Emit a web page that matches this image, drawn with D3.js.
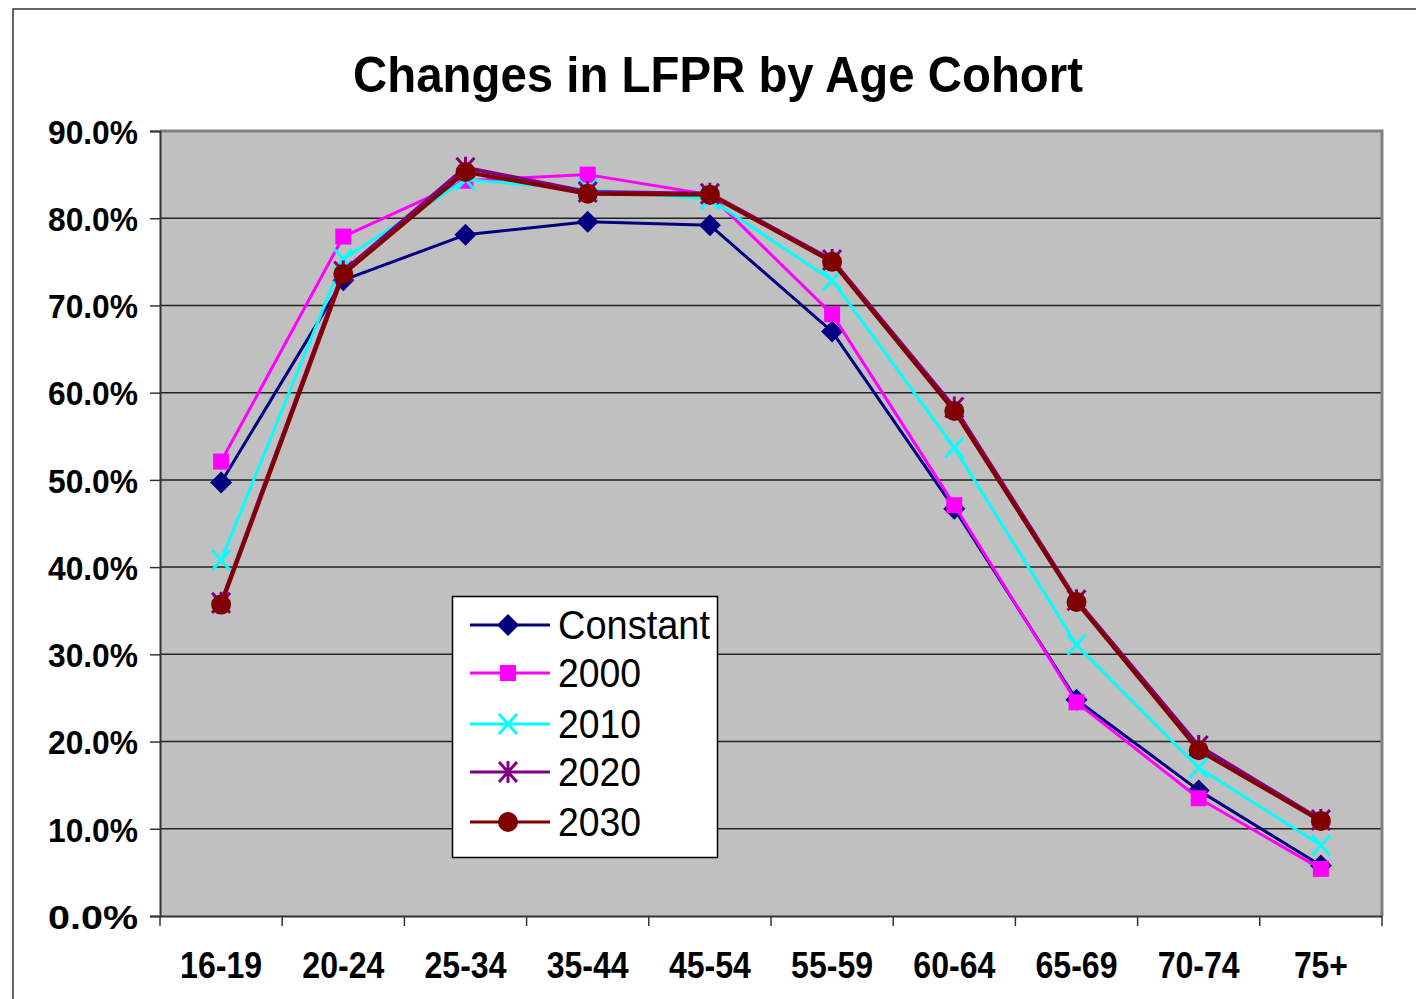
<!DOCTYPE html>
<html><head><meta charset="utf-8">
<script src="https://cdn.jsdelivr.net/npm/d3@7"></script>
<style>html,body{margin:0;padding:0;background:#fff;}svg{display:block;}</style>
</head><body>
<svg id="chart" width="1416" height="999"></svg>
<script>
const categories = ["16-19","20-24","25-34","35-44","45-54","55-59","60-64","65-69","70-74","75+"];
const constantVals = [49.7,72.9,78.1,79.6,79.2,67.0,46.7,24.8,14.4,5.8];
const vals2000 = [52.1,77.9,84.3,85.0,82.7,69.0,47.1,24.5,13.5,5.4];
const vals2010 = [40.8,75.3,84.4,83.3,82.2,72.9,53.7,31.1,17.0,8.1];
const vals2020 = [35.9,73.9,85.8,83.0,82.8,75.2,58.3,36.2,19.5,11.0];
const vals2030 = [35.7,73.6,85.3,82.8,82.7,75.0,57.9,36.0,19.0,10.9];
const seriesNames = ["Constant","2000","2010","2020","2030"];
const yTicks = [0,10,20,30,40,50,60,70,80,90];
const title = "Changes in LFPR by Age Cohort";

(function(){
const seriesData = [constantVals, vals2000, vals2010, vals2020, vals2030];
const colors = ["#000080","#FF00FF","#00FFFF","#800080","#800000"];
const widths = [3,3,3,4,4];
const markerTypes = ["diamond","square","x","star","circle"];

const svg = d3.select("#chart");
const FONT = "'Liberation Sans', Arial, sans-serif";

svg.append("rect").attr("x",13).attr("y",9).attr("width",1420).attr("height",1010)
  .attr("fill","#fff").attr("stroke","#333").attr("stroke-width",1.5);

const pL=160, pR=1382, pT=131, pB=916;
const x = d3.scaleBand().domain(categories).range([pL,pR]).padding(0);
const y = d3.scaleLinear().domain([0,90]).range([pB,pT]);

svg.append("rect").attr("x",pL).attr("y",pT).attr("width",pR-pL).attr("height",pB-pT)
  .attr("fill","#C0C0C0");

svg.append("g").selectAll("line").data(yTicks.filter(d=>d>0 && d<90)).join("line")
  .attr("x1",pL).attr("x2",pR).attr("y1",d=>y(d)).attr("y2",d=>y(d))
  .attr("stroke","#222").attr("stroke-width",1.5);

svg.append("path").attr("d",`M${pL},${pT}H${pR}V${pB}`)
  .attr("fill","none").attr("stroke","#808080").attr("stroke-width",3);

const yAxis = svg.append("g").attr("transform",`translate(${pL},0)`)
  .call(d3.axisLeft(y).tickValues(yTicks).tickSize(10).tickFormat(d=>d.toFixed(1)+"%"));
yAxis.select(".domain").attr("stroke","#333").attr("stroke-width",2);
yAxis.selectAll(".tick line").attr("stroke","#333").attr("stroke-width",1.5);
yAxis.selectAll(".tick text").attr("x",-22).attr("dy","0.36em")
  .attr("font-family",FONT).attr("font-weight","bold").attr("font-size",34).attr("fill","#000")
  .attr("textLength",90).attr("lengthAdjust","spacingAndGlyphs");

const xAxis = svg.append("g").attr("transform",`translate(0,${pB})`)
  .call(d3.axisBottom(x).tickSize(0).tickFormat(d=>d));
xAxis.select(".domain").attr("stroke","#333").attr("stroke-width",2);
xAxis.selectAll(".tick text").attr("y",36).attr("dy","0.71em")
  .attr("font-family",FONT).attr("font-weight","bold").attr("font-size",36).attr("fill","#000")
  .attr("textLength",d=>d==="75+"?54:82).attr("lengthAdjust","spacingAndGlyphs");
const bounds = categories.map(c=>x(c)).concat([pR]);
svg.append("g").selectAll("line").data(bounds).join("line")
  .attr("x1",d=>d).attr("x2",d=>d).attr("y1",pB).attr("y2",pB+10)
  .attr("stroke","#333").attr("stroke-width",1.5);

svg.append("text").attr("x",718).attr("y",92).attr("text-anchor","middle")
  .attr("font-family",FONT).attr("font-weight","bold").attr("font-size",50)
  .attr("textLength",730).attr("lengthAdjust","spacingAndGlyphs").text(title);

function drawMarker(g, type, color, cx, cy, s=1){
  if(type==="diamond"){
    g.append("path").attr("d",`M${cx},${cy-11*s}L${cx+11*s},${cy}L${cx},${cy+11*s}L${cx-11*s},${cy}Z`).attr("fill",color);
  } else if(type==="square"){
    g.append("rect").attr("x",cx-8*s).attr("y",cy-8*s).attr("width",16*s).attr("height",16*s).attr("fill",color);
  } else if(type==="x"){
    g.append("path").attr("d",`M${cx-9*s},${cy-10*s}L${cx+9*s},${cy+10*s}M${cx+9*s},${cy-10*s}L${cx-9*s},${cy+10*s}`)
      .attr("stroke",color).attr("stroke-width",3).attr("fill","none");
  } else if(type==="star"){
    g.append("path").attr("d",`M${cx-9*s},${cy-10*s}L${cx+9*s},${cy+10*s}M${cx+9*s},${cy-10*s}L${cx-9*s},${cy+10*s}M${cx},${cy-11*s}L${cx},${cy+11*s}`)
      .attr("stroke",color).attr("stroke-width",3).attr("fill","none");
  } else if(type==="circle"){
    g.append("circle").attr("cx",cx).attr("cy",cy).attr("r",10*s).attr("fill",color);
  }
}

const cx = c => x(c)+x.bandwidth()/2;
const line = d3.line().x((d,i)=>cx(categories[i])).y(d=>y(d));
seriesData.forEach((vals,si)=>{
  const g = svg.append("g");
  g.append("path").datum(vals).attr("d",line).attr("fill","none")
    .attr("stroke",colors[si]).attr("stroke-width",widths[si]).attr("stroke-linejoin","round");
  vals.forEach((v,i)=>drawMarker(g, markerTypes[si], colors[si], cx(categories[i]), y(v)));
});

const lg = svg.append("g");
lg.append("rect").attr("x",452.5).attr("y",596.5).attr("width",265).attr("height",261)
  .attr("fill","#fff").attr("stroke","#000").attr("stroke-width",1.5);
const rowsY = [625,673,724,772,822];
seriesNames.forEach((n,i)=>{
  const yy = rowsY[i];
  lg.append("line").attr("x1",470).attr("x2",550).attr("y1",yy).attr("y2",yy)
    .attr("stroke",colors[i]).attr("stroke-width",3);
  drawMarker(lg, markerTypes[i], colors[i], 508, yy);
  lg.append("text").attr("x",558).attr("y",yy+14).attr("font-family",FONT).attr("font-size",41)
    .attr("textLength",n==="Constant"?152:83).attr("lengthAdjust","spacingAndGlyphs").text(n);
});
})();
</script>
</body></html>
